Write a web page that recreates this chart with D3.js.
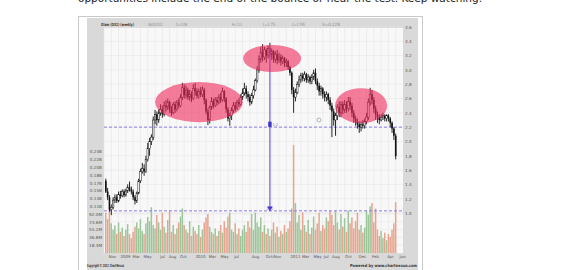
<!DOCTYPE html>
<html><head><meta charset="utf-8">
<script src="https://cdn.jsdelivr.net/npm/d3@7"></script>
<style>html,body{margin:0;padding:0;background:#fff;overflow:hidden}svg{display:block;font-family:"DejaVu Sans",Verdana,sans-serif}</style>
</head><body>
<svg id="c" width="575" height="270"></svg>
<script>
// ---- data (weekly, Olam O32) ----
const opens  = [1.45,1.30,1.22,1.05,1.08,1.18,1.22,1.17,1.26,1.24,1.30,1.25,1.31,1.36,1.33,1.30,1.22,1.17,1.28,1.45,
1.58,1.62,1.58,1.75,1.90,2.00,2.06,2.30,2.38,2.30,2.40,2.45,2.38,2.50,2.48,2.55,2.45,2.40,2.52,2.45,
2.55,2.50,2.62,2.75,2.65,2.72,2.62,2.66,2.60,2.74,2.70,2.64,2.70,2.66,2.72,2.58,2.42,2.30,2.48,2.56,
2.50,2.58,2.55,2.62,2.58,2.70,2.60,2.45,2.32,2.36,2.44,2.50,2.46,2.55,2.52,2.62,2.68,2.74,2.66,2.62,
2.55,2.64,2.72,2.85,3.00,3.15,3.25,3.18,3.28,3.20,3.30,3.22,3.26,3.15,3.22,3.14,3.18,3.12,3.16,3.10,
3.12,3.04,2.96,2.72,2.62,2.68,2.80,2.86,2.92,2.88,2.94,2.86,2.90,2.84,2.90,2.96,2.84,2.78,2.70,2.74,
2.66,2.62,2.66,2.58,2.50,2.42,2.30,2.36,2.48,2.40,2.52,2.44,2.52,2.46,2.56,2.50,2.40,2.32,2.28,2.24,
2.20,2.24,2.22,2.28,2.34,2.55,2.66,2.58,2.46,2.38,2.34,2.30,2.34,2.36,2.32,2.36,2.32,2.26,2.18,2.08];
const highs  = [1.48,1.35,1.25,1.12,1.22,1.26,1.26,1.30,1.31,1.33,1.33,1.34,1.40,1.44,1.37,1.33,1.25,1.30,1.48,1.62,
1.70,1.68,1.80,1.98,2.05,2.10,2.35,2.44,2.42,2.45,2.52,2.50,2.56,2.58,2.60,2.57,2.50,2.55,2.56,2.58,
2.60,2.66,2.82,2.80,2.78,2.75,2.72,2.70,2.80,2.82,2.74,2.74,2.76,2.77,2.75,2.60,2.46,2.50,2.62,2.60,
2.62,2.62,2.66,2.68,2.75,2.72,2.62,2.48,2.40,2.48,2.55,2.55,2.58,2.60,2.66,2.74,2.82,2.78,2.70,2.66,
2.68,2.78,2.88,3.05,3.20,3.32,3.36,3.32,3.30,3.34,3.38,3.30,3.28,3.26,3.28,3.24,3.22,3.20,3.18,3.16,
3.14,3.06,2.98,2.76,2.74,2.84,2.92,2.96,2.96,2.98,2.96,2.94,2.92,2.94,3.00,3.02,2.88,2.82,2.78,2.76,
2.70,2.70,2.68,2.62,2.54,2.46,2.40,2.52,2.56,2.56,2.56,2.58,2.56,2.62,2.62,2.54,2.44,2.36,2.32,2.28,
2.28,2.30,2.32,2.40,2.60,2.75,2.72,2.62,2.50,2.42,2.38,2.38,2.40,2.38,2.38,2.38,2.34,2.28,2.20,2.11];
const lows   = [1.28,1.18,1.02,0.97,1.05,1.14,1.14,1.15,1.20,1.22,1.22,1.23,1.28,1.30,1.26,1.18,1.12,1.14,1.26,1.42,
1.55,1.52,1.56,1.72,1.80,1.95,2.02,2.24,2.22,2.26,2.36,2.33,2.35,2.42,2.44,2.40,2.36,2.38,2.40,2.42,
2.46,2.48,2.58,2.60,2.60,2.58,2.57,2.55,2.58,2.64,2.60,2.60,2.62,2.62,2.52,2.38,2.23,2.25,2.44,2.46,
2.48,2.50,2.52,2.54,2.56,2.55,2.40,2.28,2.22,2.30,2.40,2.42,2.44,2.48,2.50,2.58,2.64,2.60,2.56,2.50,
2.52,2.60,2.70,2.82,2.96,3.10,3.12,3.14,3.10,3.16,3.18,3.14,3.10,3.10,3.08,3.10,3.06,3.08,3.04,3.04,
3.00,2.92,2.66,2.40,2.56,2.66,2.76,2.82,2.84,2.84,2.82,2.82,2.80,2.80,2.86,2.80,2.72,2.64,2.64,2.60,
2.56,2.56,2.52,2.44,2.06,2.22,2.08,2.30,2.34,2.34,2.38,2.40,2.40,2.42,2.44,2.34,2.26,2.22,2.18,2.12,
2.14,2.18,2.18,2.24,2.30,2.50,2.52,2.40,2.30,2.26,2.24,2.28,2.30,2.28,2.28,2.28,2.20,2.12,2.02,1.75];
const closes = [1.30,1.22,1.05,1.08,1.18,1.22,1.17,1.26,1.24,1.30,1.25,1.31,1.36,1.33,1.30,1.22,1.17,1.28,1.45,1.58,
1.62,1.58,1.75,1.90,2.00,2.06,2.30,2.38,2.30,2.40,2.45,2.38,2.50,2.48,2.55,2.45,2.40,2.52,2.45,2.55,
2.50,2.62,2.75,2.65,2.72,2.62,2.66,2.60,2.74,2.70,2.64,2.70,2.66,2.72,2.58,2.42,2.30,2.48,2.56,2.50,
2.58,2.55,2.62,2.58,2.70,2.60,2.45,2.32,2.36,2.44,2.50,2.46,2.55,2.52,2.62,2.68,2.74,2.66,2.62,2.55,
2.64,2.72,2.85,3.00,3.15,3.25,3.18,3.28,3.20,3.30,3.22,3.26,3.15,3.22,3.14,3.18,3.12,3.16,3.10,3.12,
3.04,2.96,2.72,2.62,2.68,2.80,2.86,2.92,2.88,2.94,2.86,2.90,2.84,2.90,2.96,2.84,2.78,2.70,2.74,2.66,
2.62,2.66,2.58,2.50,2.42,2.30,2.36,2.48,2.40,2.52,2.44,2.52,2.46,2.56,2.50,2.40,2.32,2.28,2.24,2.20,
2.24,2.22,2.28,2.34,2.55,2.66,2.58,2.46,2.38,2.34,2.30,2.34,2.36,2.32,2.36,2.32,2.26,2.18,2.08,1.795];
// volume in millions of shares
const volumes = [95,80,105,70,55,65,45,72,50,60, 40,55,68,45,35,50,62,72,58,80,
52,45,70,85,75,108,66,58,90,72, 55,95,62,48,78,100,50,66,45,58,
72,86,105,66,55,48,75,40,62,52, 45,66,38,55,72,84,92,62,50,45,
58,40,52,66,48,75,60,86,95,55, 50,70,45,58,40,55,66,50,75,60,
92,55,95,72,62,84,50,66,45,58, 40,55,72,48,62,38,52,45,66,50,
58,75,105,255,118,72,90,55,96,66, 50,78,45,60,86,55,70,95,52,66,
58,84,75,100,90,66,100,72,55,92, 62,82,50,100,70,84,58,75,95,55,
66,48,60,100,90,110,118,72,105,55, 40,52,35,48,30,45,38,55,70,120];
// x-axis tick labels (week index positions)
const xTickLabels = ["Nov","2009","Mar","May","Jul","Aug","Oct","2010","Mar","May","Jul","Aug","Oct/Nov","2011","Mar","May","Jul","Aug","Oct","Dec","Feb","Apr","Jun"];
const xTickWeeks  = [3.4,10.5,16.4,22.6,30.8,36.3,42.3,51.7,58.2,64.8,71.4,81.8,91.7,103.8,109.3,115.8,120.6,125.9,132.8,140.4,147.6,155.9,162.5];
const priceTicks = [1.0,1.2,1.4,1.6,1.8,2.0,2.2,2.4,2.6,2.8,3.0,3.2,3.4,3.6];
const volTicks = [18.4,36.8,55.2,73.6,92.0,110.4,128.8,147.2,165.6,184.0,202.4,220.8,239.2];
const volTickLabels = ["18.4M","36.8M","55.2M","73.6M","92.0M","0.11B","0.13B","0.15B","0.17B","0.18B","0.20B","0.22B","0.24B"];
// annotations (week index / price units)
const zones = [{w:51.1,p:2.55,rw:24.1,rp:0.28},{w:91.2,p:3.16,rw:15.9,rp:0.19},{w:140,p:2.50,rw:14.3,rp:0.245}];
const levels = [2.2,1.03];
const target = {w:90, p1:3.30, p2:1.06, mark:2.24};
const headerItems = ["Olam (O32) (weekly)","06/05/2012","O=2.08","H=2.11","L=1.75","C=1.795","V=0.12B"];

const N = closes.length;
const svg = d3.select("#c");

// page text (cut off at top)
svg.append("text").attr("x",78).attr("y",1.5).attr("font-size",11).attr("fill","#222")
  .attr("textLength",404).attr("lengthAdjust","spacingAndGlyphs")
  .text("opportunities include the end of the bounce or near the test. Keep watching.");

// image border + frame
svg.append("rect").attr("x",78.5).attr("y",16.5).attr("width",344).attr("height",260).attr("fill","#fff").attr("stroke","#c9c9c9");
svg.append("rect").attr("x",87).attr("y",18).attr("width",331).attr("height",260).attr("fill","#d9d9d9");

const L=104,R=403,T=28,B=253;
const x = d3.scaleLinear().domain([-1,N+3]).range([L,R]);
const y = d3.scaleLinear().domain([1.0,3.6]).range([213,27]);
const yv = d3.scaleLinear().domain([0,239.2]).range([B,151.6]);

svg.append("rect").attr("x",L).attr("y",T).attr("width",R-L).attr("height",B-T).attr("fill","#f8f8f8");
// grid
const g = svg.append("g");
g.selectAll("line.v").data(d3.range(-1,N+3,4)).join("line")
  .attr("x1",d=>x(d)).attr("x2",d=>x(d)).attr("y1",T).attr("y2",B).attr("stroke","#e6e6e6").attr("stroke-width",0.6);
g.selectAll("line.h").data(priceTicks).join("line")
  .attr("x1",L).attr("x2",R).attr("y1",d=>y(d)).attr("y2",d=>y(d)).attr("stroke","#e6e6e6").attr("stroke-width",0.6);
g.selectAll("line.hv").data(volTicks.slice(0,5)).join("line")
  .attr("x1",L).attr("x2",R).attr("y1",d=>yv(d)).attr("y2",d=>yv(d)).attr("stroke","#e6e6e6").attr("stroke-width",0.6);

// volume bars
svg.append("g").selectAll("rect").data(volumes).join("rect")
  .attr("x",(d,i)=>x(i)-0.8).attr("width",1.5)
  .attr("y",d=>yv(d)).attr("height",d=>B-yv(d))
  .attr("fill",(d,i)=>closes[i]>=opens[i]?"#9cc59a":"#e8a48e");

// levels
svg.append("g").selectAll("line").data(levels).join("line")
  .attr("x1",L).attr("x2",R).attr("y1",d=>y(d)).attr("y2",d=>y(d))
  .attr("stroke","#8a7ee6").attr("stroke-width",1).attr("stroke-dasharray","3,2");

// candles
const cg = svg.append("g");
cg.selectAll("line").data(closes).join("line")
  .attr("x1",(d,i)=>x(i)).attr("x2",(d,i)=>x(i))
  .attr("y1",(d,i)=>y(highs[i])).attr("y2",(d,i)=>y(lows[i]))
  .attr("stroke","#111").attr("stroke-width",0.9);
cg.selectAll("rect").data(closes).join("rect")
  .attr("x",(d,i)=>x(i)-0.8).attr("width",1.6)
  .attr("y",(d,i)=>y(Math.max(d,opens[i])))
  .attr("height",(d,i)=>Math.max(0.8,Math.abs(y(d)-y(opens[i]))))
  .attr("fill",(d,i)=>d>=opens[i]?"#fff":"#111")
  .attr("stroke","#111").attr("stroke-width",(d,i)=>d>=opens[i]?0.5:0);

// target line + markers
svg.append("line").attr("x1",x(target.w)).attr("x2",x(target.w)).attr("y1",y(target.p1)).attr("y2",y(target.p2))
  .attr("stroke","#7468dc").attr("stroke-width",1.3);
svg.append("rect").attr("x",x(target.w)-1.7).attr("y",y(target.mark)-2.6).attr("width",3.4).attr("height",5.2).attr("fill","#3b32c8");
svg.append("text").attr("x",x(target.w)+2.5).attr("y",y(target.mark)+2).attr("font-size",3.5).attr("fill","#6660c8").text("2.2");
svg.append("path").attr("d",d3.symbol(d3.symbolTriangle,14)()).attr("transform",`translate(${x(target.w)},${y(target.p2)-0.5}) rotate(180)`).attr("fill","#3b32c8");
svg.append("text").attr("x",x(target.w)).attr("y",y(target.p2)+1.2).attr("text-anchor","middle").attr("font-size",3.2).attr("fill","#8e88d8").text("1.05");
svg.append("circle").attr("cx",x(116.9)).attr("cy",y(2.30)).attr("r",2).attr("fill","none").attr("stroke","#8fae9a").attr("stroke-width",0.8);

// zones
svg.append("g").selectAll("ellipse").data(zones).join("ellipse")
  .attr("cx",d=>x(d.w)).attr("cy",d=>y(d.p))
  .attr("rx",d=>x(d.w+d.rw)-x(d.w)).attr("ry",d=>y(d.p-d.rp)-y(d.p))
  .attr("fill","#ee2a5c").attr("opacity",0.6);

// axes
const ax = svg.append("g").attr("transform",`translate(${R+1},0)`)
  .call(d3.axisRight(y).tickValues(priceTicks).tickFormat(d3.format(".1f")).tickSize(0).tickPadding(1));
const av = svg.append("g").attr("transform",`translate(${L-1},0)`)
  .call(d3.axisLeft(yv).tickValues(volTicks).tickFormat((d,i)=>volTickLabels[i]).tickSize(0).tickPadding(1));
const axb = svg.append("g").attr("transform",`translate(0,${B})`)
  .call(d3.axisBottom(x).tickValues(xTickWeeks).tickFormat((d,i)=>xTickLabels[i]).tickSize(0).tickPadding(2));
[ax,av].forEach(a=>{a.select(".domain").remove();a.selectAll("text").attr("font-size",4.2).attr("fill","#555").attr("font-family","DejaVu Sans");});
axb.select(".domain").remove();
axb.selectAll("text").attr("font-size",3.9).attr("fill","#555").attr("font-family","DejaVu Sans");

// header
const hx = [101,148,176,232,263,292,322], hw=[33,15,11,10,12,13,18];
headerItems.forEach((t,i)=>{
  svg.append("text").attr("x",hx[i]).attr("y",26).attr("font-size",i==0?4.2:4.4)
   .attr("fill",i==0?"#333":"#8a8a8a").attr("font-weight",i==0?"bold":"normal")
   .attr("textLength",hw[i]).attr("lengthAdjust","spacingAndGlyphs").text(t);
});
// footer
svg.append("text").attr("x",87).attr("y",266.5).attr("font-size",4.2).attr("font-weight","bold").attr("fill","#333")
  .attr("textLength",37).attr("lengthAdjust","spacingAndGlyphs").text("Copyright © 2012 ChartNexus");
svg.append("text").attr("x",350).attr("y",266.5).attr("font-size",4.2).attr("font-weight","bold").attr("fill","#333")
  .attr("textLength",67).attr("lengthAdjust","spacingAndGlyphs").text("Powered by www.chartnexus.com");
</script>
</body></html>
